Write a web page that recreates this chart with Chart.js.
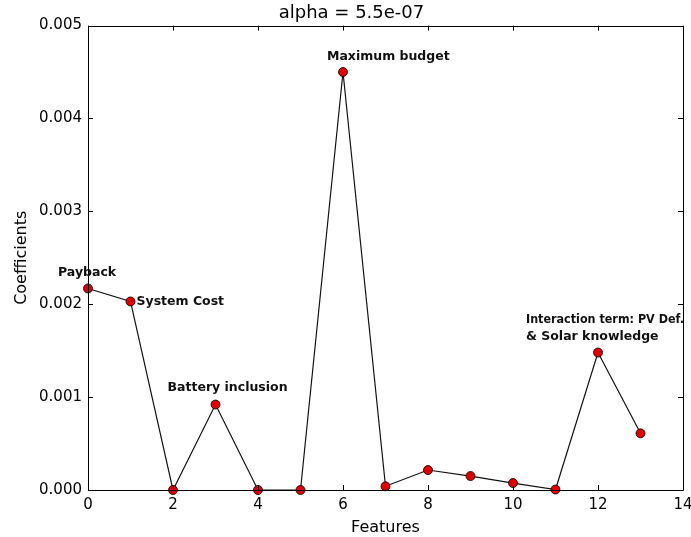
<!DOCTYPE html>
<html>
<head>
<meta charset="utf-8">
<script src="https://cdn.jsdelivr.net/npm/chart.js@4"></script>
<style>
html,body{margin:0;padding:0;background:#fff;}
#wrap{width:691px;height:537px;}
</style>
</head>
<body>
<div id="wrap"><canvas id="c" width="691" height="537"></canvas></div>
<script>
// ---- data ----
const features = [0,1,2,3,4,5,6,7,8,9,10,11,12,13];
const coefficients = [0.00217,0.00203,0.0,0.00092,0.0,0.0,0.00450,0.00004,0.000215,0.00015,0.000075,0.000005,0.00148,0.00061];
const xTicks = [0,2,4,6,8,10,12,14];
const yTicks = [0,0.001,0.002,0.003,0.004,0.005];
const titleText = 'alpha = 5.5e-07';
const xTitle = 'Features';
const yTitle = 'Coefficients';
// annotation labels attached to feature index
const annotIndex = [0,1,3,6,12];
const annotText = [['Payback'],['System Cost'],['Battery inclusion'],['Maximum budget'],['Interaction term: PV Def.','& Solar knowledge']];

const annotOffsets = [[-30,-16],[6,0],[-48,-17],[-16,-15],[-72,-33]];

const points = features.map((f,i)=>({x:f,y:coefficients[i]}));

const frameTicks = {
  id:'frameTicks',
  afterDatasetsDraw(chart){
    const {ctx, chartArea:a, scales:{x,y}} = chart;
    ctx.save();
    ctx.strokeStyle='#000';
    ctx.lineWidth=1;
    ctx.beginPath();
    ctx.rect(Math.round(a.left)+0.5, Math.round(a.top)+0.5, Math.round(a.right-a.left), Math.round(a.bottom-a.top));
    ctx.stroke();
    const L=5;
    ctx.beginPath();
    xTicks.forEach(v=>{
      const px=Math.round(x.getPixelForValue(v))+0.5;
      ctx.moveTo(px,a.bottom); ctx.lineTo(px,a.bottom-L);
      ctx.moveTo(px,a.top); ctx.lineTo(px,a.top+L);
    });
    yTicks.forEach(v=>{
      const py=Math.round(y.getPixelForValue(v))+0.5;
      ctx.moveTo(a.left,py); ctx.lineTo(a.left+L,py);
      ctx.moveTo(a.right,py); ctx.lineTo(a.right-L,py);
    });
    ctx.stroke();
    // annotations
    ctx.fillStyle='#111';
    ctx.font='bold 12.5px "DejaVu Sans", sans-serif';
    ctx.textBaseline='middle';
    ctx.textAlign='left';
    annotIndex.forEach((idx,k)=>{
      const px=x.getPixelForValue(features[idx])+annotOffsets[k][0];
      const py=y.getPixelForValue(coefficients[idx])+annotOffsets[k][1];
      annotText[k].forEach((t,j)=>ctx.fillText(t,px,py+j*17,158));
    });
    ctx.restore();
  }
};

new Chart(document.getElementById('c'),{
  type:'line',
  data:{datasets:[{
    data:points,
    borderColor:'#111',
    borderWidth:1.2,
    pointBackgroundColor:'#e00000',
    pointBorderColor:'#000',
    pointBorderWidth:0.8,
    pointRadius:4.5,
    tension:0,
    clip:false
  }]},
  options:{
    responsive:false,
    animation:false,
    devicePixelRatio:1,
    layout:{padding:{left:12,right:0,top:0,bottom:0}},
    plugins:{
      legend:{display:false},
      tooltip:{enabled:false},
      title:{display:true,text:titleText,color:'#000',font:{family:'"DejaVu Sans", sans-serif',size:18,weight:'normal'},padding:{top:3,bottom:1}}
    },
    scales:{
      x:{
        type:'linear',min:0,max:14,
        afterBuildTicks(s){s.ticks=xTicks.map(v=>({value:v}));},
        afterFit(s){s.height=47;s.paddingRight=8;s.paddingLeft=0;},
        grid:{display:false,drawTicks:false},
        border:{display:false},
        ticks:{color:'#000',padding:6,font:{family:'"DejaVu Sans", sans-serif',size:15},maxRotation:0},
        title:{display:true,text:xTitle,color:'#000',font:{family:'"DejaVu Sans", sans-serif',size:16},padding:{top:2,bottom:0}}
      },
      y:{
        type:'linear',min:0,max:0.005,
        afterBuildTicks(s){s.ticks=yTicks.map(v=>({value:v}));},
        afterFit(s){s.width=76;s.paddingTop=0;s.paddingBottom=0;},
        grid:{display:false,drawTicks:false},
        border:{display:false},
        ticks:{color:'#000',padding:6,font:{family:'"DejaVu Sans", sans-serif',size:15},callback:v=>v.toFixed(3)},
        title:{display:true,text:yTitle,color:'#000',font:{family:'"DejaVu Sans", sans-serif',size:16},padding:{top:0,bottom:4}}
      }
    }
  },
  plugins:[frameTicks]
});
</script>
</body>
</html>
